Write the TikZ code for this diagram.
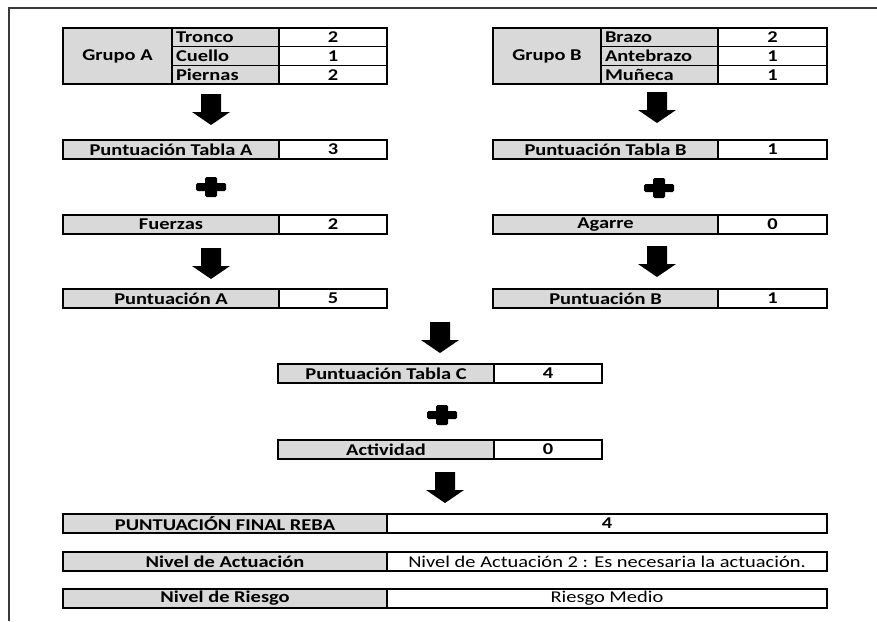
\documentclass[tikz,border=0pt]{standalone}
\usepackage{fontspec}
\setmainfont{Carlito}[FakeStretch=1.24]
\definecolor{cellgray}{HTML}{D9D9D9}
\definecolor{framegray}{HTML}{3A3A3A}
\tikzset{
  cell/.style={draw=black, line width=1.2pt, inner sep=0pt, outer sep=0pt, anchor=north west,
    font=\fontsize{16.5}{16.5}\selectfont\bfseries},
  gcell/.style={cell, fill=cellgray},
  wcell/.style={cell, fill=white},
  lcell/.style={gcell, inner xsep=4pt, text width=#1, align=left},
  regtext/.style={font=\fontsize{16.5}{16.5}\selectfont},
  downarr/.pic={\fill[black] (-10,0) -- (10,0) -- (10,18) -- (19,18) -- (0,31) -- (-19,18) -- (-10,18) -- cycle;},
  plussign/.pic={\fill[black, rounded corners=1.5pt] (-15,-4) rectangle (15,4);
                 \fill[black, rounded corners=1.5pt] (-6,-10) rectangle (6,10);}
}
\begin{document}
\begin{tikzpicture}[x=1pt,y=-1pt]
\useasboundingbox (0,0) rectangle (877,621);
\fill[white] (0,0) rectangle (877,621);
\draw[framegray, line width=1.5pt] (9,621) -- (9,8) -- (877,8);

% ---- Grupo A ----
\node[gcell, minimum width=109, minimum height=56] (gA) at (63,28) {Grupo A};
\node[lcell=99pt, minimum height=18.67] (tronco) at (172,28) {Tronco};
\node[lcell=99pt, minimum height=18.67] (cuello) at (172,46.67) {Cuello};
\node[lcell=99pt, minimum height=18.67] (piernas) at (172,65.33) {Piernas};
\node[wcell, minimum width=108, minimum height=18.67] (vtronco) at (279,28) {2};
\node[wcell, minimum width=108, minimum height=18.67] (vcuello) at (279,46.67) {1};
\node[wcell, minimum width=108, minimum height=18.67] (vpiernas) at (279,65.33) {2};

% ---- Grupo B ----
\node[gcell, minimum width=108, minimum height=56] (gB) at (493,28) {Grupo B};
\node[lcell=109pt, minimum height=18.67] (brazo) at (601,28) {Brazo};
\node[lcell=109pt, minimum height=18.67] (antebrazo) at (601,46.67) {Antebrazo};
\node[lcell=109pt, minimum height=18.67] (muneca) at (601,65.33) {Muñeca};
\node[wcell, minimum width=109, minimum height=18.67] (vbrazo) at (718,28) {2};
\node[wcell, minimum width=109, minimum height=18.67] (vantebrazo) at (718,46.67) {1};
\node[wcell, minimum width=109, minimum height=18.67] (vmuneca) at (718,65.33) {1};

% ---- Left column ----
\node[gcell, minimum width=216, minimum height=19] (pta) at (63,140) {Puntuación Tabla A};
\node[wcell, minimum width=108, minimum height=19] (vpta) at (279,140) {3};
\node[gcell, minimum width=216, minimum height=19] (fuerzas) at (63,215) {Fuerzas};
\node[wcell, minimum width=108, minimum height=19] (vfuerzas) at (279,215) {2};
\node[gcell, minimum width=216, minimum height=19] (pa) at (63,289) {Puntuación A};
\node[wcell, minimum width=108, minimum height=19] (vpa) at (279,289) {5};

% ---- Right column ----
\node[gcell, minimum width=225, minimum height=19] (ptb) at (493,140) {Puntuación Tabla B};
\node[wcell, minimum width=109, minimum height=19] (vptb) at (718,140) {1};
\node[gcell, minimum width=225, minimum height=19] (agarre) at (493,215) {Agarre};
\node[wcell, minimum width=109, minimum height=19] (vagarre) at (718,215) {0};
\node[gcell, minimum width=225, minimum height=19] (pb) at (493,289) {Puntuación B};
\node[wcell, minimum width=109, minimum height=19] (vpb) at (718,289) {1};

% ---- Centre ----
\node[gcell, minimum width=216, minimum height=19] (ptc) at (278,364) {Puntuación Tabla C};
\node[wcell, minimum width=108, minimum height=19] (vptc) at (494,364) {4};
\node[gcell, minimum width=216, minimum height=19] (actividad) at (278,440) {Actividad};
\node[wcell, minimum width=108, minimum height=19] (vactividad) at (494,440) {0};

% ---- Bottom ----
\node[gcell, minimum width=324, minimum height=19] (final) at (63,514) {PUNTUACIÓN FINAL REBA};
\node[wcell, minimum width=440, minimum height=19] (vfinal) at (387,514) {4};
\node[gcell, minimum width=324, minimum height=19] (nact) at (63,552) {Nivel de Actuación};
\node[wcell, regtext, minimum width=440, minimum height=19] (vnact) at (387,552) {Nivel de Actuación 2 : Es necesaria la actuación.};
\node[gcell, minimum width=324, minimum height=19] (nriesgo) at (63,589) {Nivel de Riesgo};
\node[wcell, regtext, minimum width=440, minimum height=19] (vnriesgo) at (387,589) {Riesgo Medio};

% ---- arrows and plus signs ----
\pic (arrA1) at (211,94) {downarr};
\pic (arrB1) at (657,92) {downarr};
\pic (plusA) at (211,187) {plussign};
\pic (plusB) at (659,188) {plussign};
\pic (arrA2) at (211,248) {downarr};
\pic (arrB2) at (657,246) {downarr};
\pic (arrC1) at (440,322) {downarr};
\pic (plusC) at (442,415) {plussign};
\pic (arrC2) at (445,472) {downarr};
\end{tikzpicture}
\end{document}
